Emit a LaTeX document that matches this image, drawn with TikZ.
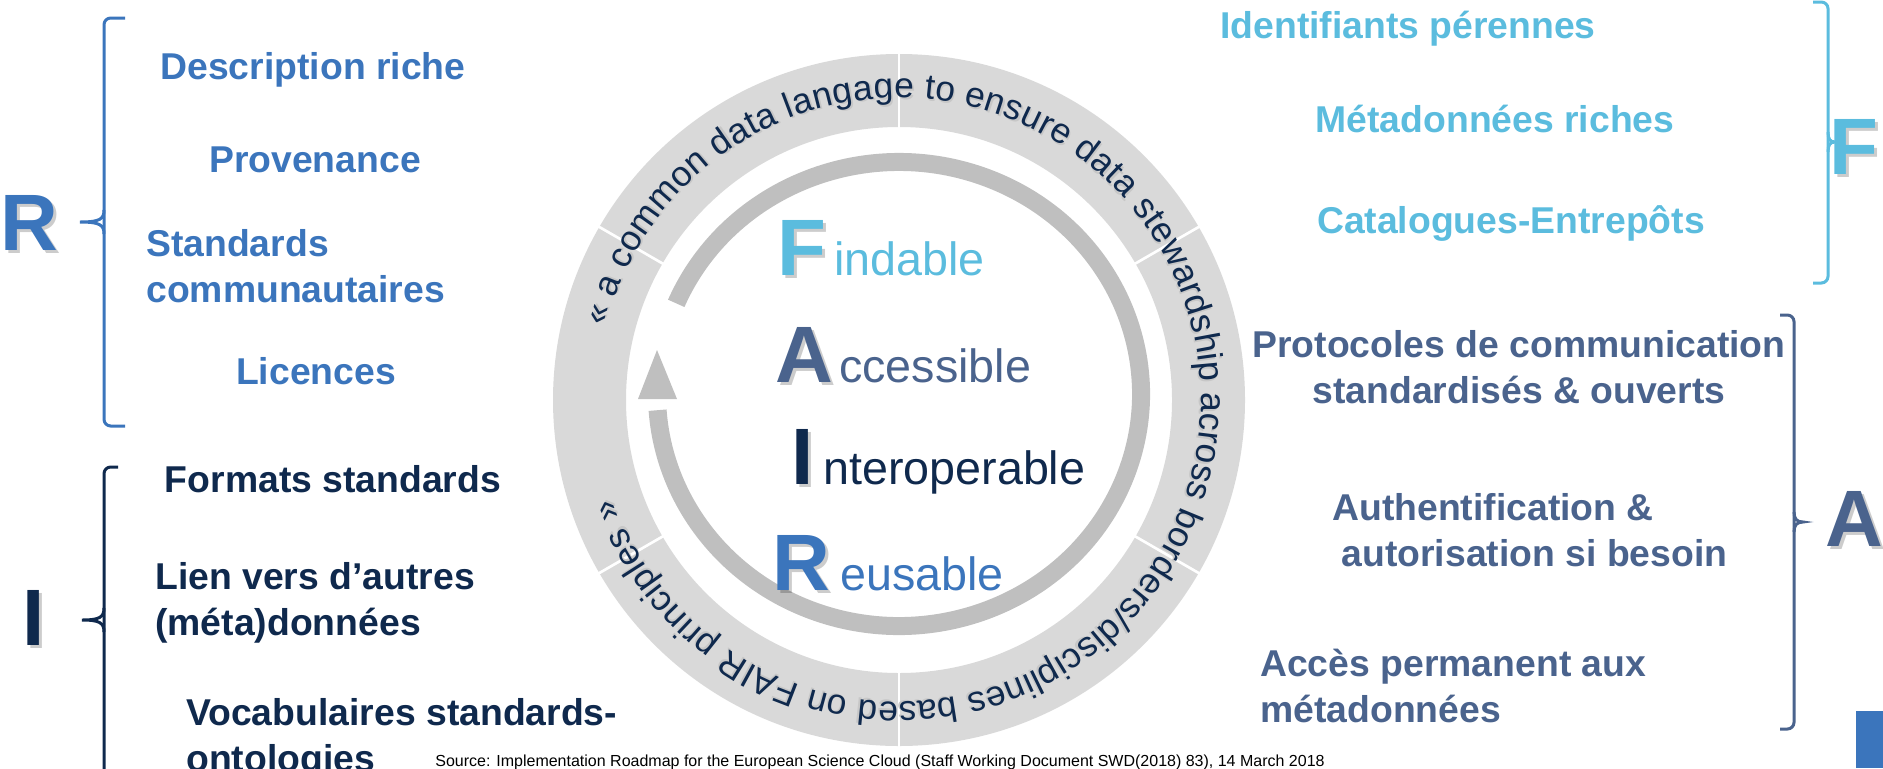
\documentclass[tikz,border=0pt]{standalone}
\usepackage{fontspec}
\setmainfont{Liberation Sans}
\usetikzlibrary{decorations.text}

\definecolor{fcyan}{RGB}{91,188,222}
\definecolor{aslate}{RGB}{74,99,141}
\definecolor{inavy}{RGB}{15,41,77}
\definecolor{rblue}{RGB}{59,117,188}
\definecolor{ringgray}{RGB}{217,217,217}
\definecolor{arrowgray}{RGB}{191,191,191}

\begin{document}
\begin{tikzpicture}[x=0.75pt,y=0.75pt,yscale=-1,xscale=1,
  sidetext/.style={inner sep=0pt,font=\fontsize{28pt}{34pt}\selectfont\bfseries},
  bigletter/.style={inner sep=0pt,anchor=base west,font=\fontsize{60pt}{60pt}\selectfont\bfseries},
  fairword/.style={inner sep=0pt,anchor=base west,font=\fontsize{35pt}{40pt}\selectfont},
  sidebrace/.style={line width=2.25pt,rounded corners=5pt},
  shadowtext/.style={black,opacity=0.2}]
\useasboundingbox (0,0) rectangle (1883,768);
\clip (0,0) rectangle (1883,768);

%Shape: Ring
\begin{scope}[shift={(899,400)},yscale=-1]
\fill [ringgray, even odd rule] (0,0) circle [radius=346] (0,0) circle [radius=273];
%Straight Lines
\foreach \ang in {30,90,...,330}
  \draw [white, line width=2pt] (\ang:272) -- (\ang:347);
%Text on the ring
\path [decorate, decoration={text along path, text align={fit to path},
    text={|\fontsize{26.5pt}{30pt}\selectfont\color{black!22}|« a common data langage to ensure data stewardship across borders/disciplines based on FAIR principles »}}]
  (165.7:300.5) arc [start angle=165.7, end angle=-161.3, radius=300.5];
\path [decorate, decoration={text along path, text align={fit to path},
    text={|\fontsize{26.5pt}{30pt}\selectfont\color{inavy}|« a common data langage to ensure data stewardship across borders/disciplines based on FAIR principles »}}]
  (166:302) arc [start angle=166, end angle=-161, radius=302];
%Shape: Arc
\draw [arrowgray, line width=13.5pt, shift={(0,6)}] (157:242 and 232) arc [start angle=157, end angle=-176, x radius=242, y radius=232];
%Shape: Triangle
\fill [arrowgray] (-261,1) -- (-222,1) -- (-242,50) -- cycle;
\end{scope}

%Text Node
\node (bigFs) [bigletter, shadowtext] at (780,278) {F};
\node (bigAs) [bigletter, shadowtext] at (778,385) {A};
\node (bigIs) [bigletter, shadowtext] at (794,487) {I};
\node (bigRs) [bigletter, shadowtext] at (775,593) {R};
\node (bigF) [bigletter, fcyan] at (777,275) {F};
\node (wordF) [fairword, fcyan] at (834,275) {indable};
\node (bigA) [bigletter, aslate] at (775,382) {A};
\node (wordA) [fairword, aslate] at (839,382) {ccessible};
\node (bigI) [bigletter, inavy] at (791,484) {I};
\node (wordI) [fairword, inavy] at (823,484) {nteroperable};
\node (bigR) [bigletter, rblue] at (772,590) {R};
\node (wordR) [fairword, rblue] at (840,590) {eusable};

%Left braces
\draw [sidebrace, rblue] (125,18) -- (104,18) -- (104,426) -- (125,426);
\draw [line width=2.25pt, rblue] (104,210) .. controls (104,219) and (100,222) .. (80,222) .. controls (100,222) and (104,225) .. (104,234);
\draw [sidebrace, inavy] (118,467) -- (104,467) -- (104,780) -- (118,780);
\draw [line width=2.25pt, inavy] (104,608) .. controls (104,617) and (100,620) .. (82,620) .. controls (100,620) and (104,623) .. (104,632);

%Right braces
\draw [sidebrace, fcyan] (1813,2) -- (1828,2) -- (1828,283) -- (1813,283);
\draw [line width=2.25pt, fcyan] (1828,132) .. controls (1828,139) and (1830,142) .. (1835,142) .. controls (1830,142) and (1828,145) .. (1828,152);
\draw [sidebrace, aslate] (1780,315) -- (1794,315) -- (1794,729) -- (1780,729);
\draw [line width=2.25pt, aslate] (1794,512) .. controls (1794,519) and (1797,522) .. (1803,522) .. controls (1797,522) and (1794,525) .. (1794,532);

%Side letters
\node (sideRs) [bigletter, shadowtext] at (3,253) {R};
\node (sideR) [bigletter, rblue] at (0,250) {R};
\node (sideIs) [bigletter, shadowtext] at (25,648) {I};
\node (sideI) [bigletter, inavy] at (22,645) {I};
\node (sideFs) [bigletter, shadowtext] at (1832,177) {F};
\node (sideF) [bigletter, fcyan] at (1829,174) {F};
\node (sideAs) [bigletter, shadowtext] at (1828,549) {A};
\node (sideA) [bigletter, aslate] at (1825,546) {A};

%Text Node
\node (descR) [sidetext, rblue] at (313,70) {Description riche};
\node (provR) [sidetext, rblue] at (315,160) {Provenance};
\node (stdR) [sidetext, rblue, anchor=west, align=left] at (146,266) {Standards\\communautaires};
\node (liceR) [sidetext, rblue] at (316,371) {Licences};

\node (fmtI) [sidetext, inavy] at (333,479) {Formats standards};
\node (lienI) [sidetext, inavy, anchor=west, align=left] at (155,603) {Lien vers d’autres\\(méta)données};
\node (vocI) [sidetext, inavy, anchor=west, align=left] at (186,739) {Vocabulaires standards-\\ontologies};

\node (idF) [sidetext, fcyan] at (1408,29) {Identifiants pérennes};
\node (metaF) [sidetext, fcyan] at (1495,119) {Métadonnées riches};
\node (catF) [sidetext, fcyan] at (1511,224) {Catalogues-Entrepôts};

\node (protA) [sidetext, aslate, align=center] at (1519,367) {Protocoles de communication\\standardisés \& ouverts};
\node (authA) [sidetext, aslate, anchor=west, align=left] at (1332,530) {Authentification \&\\\hspace{0.25em}autorisation si besoin};
\node (accA) [sidetext, aslate, anchor=west, align=left] at (1260,686) {Accès permanent aux\\métadonnées};

%Shape: Rectangle
\fill [rblue] (1856,711) rectangle (1883,768);

\node (srcnote) [inner sep=0pt, font=\fontsize{12pt}{14pt}\selectfont] at (880,762) {Source: Implementation Roadmap for the European Science Cloud (Staff Working Document SWD(2018) 83), 14 March 2018};

\end{tikzpicture}
\end{document}
